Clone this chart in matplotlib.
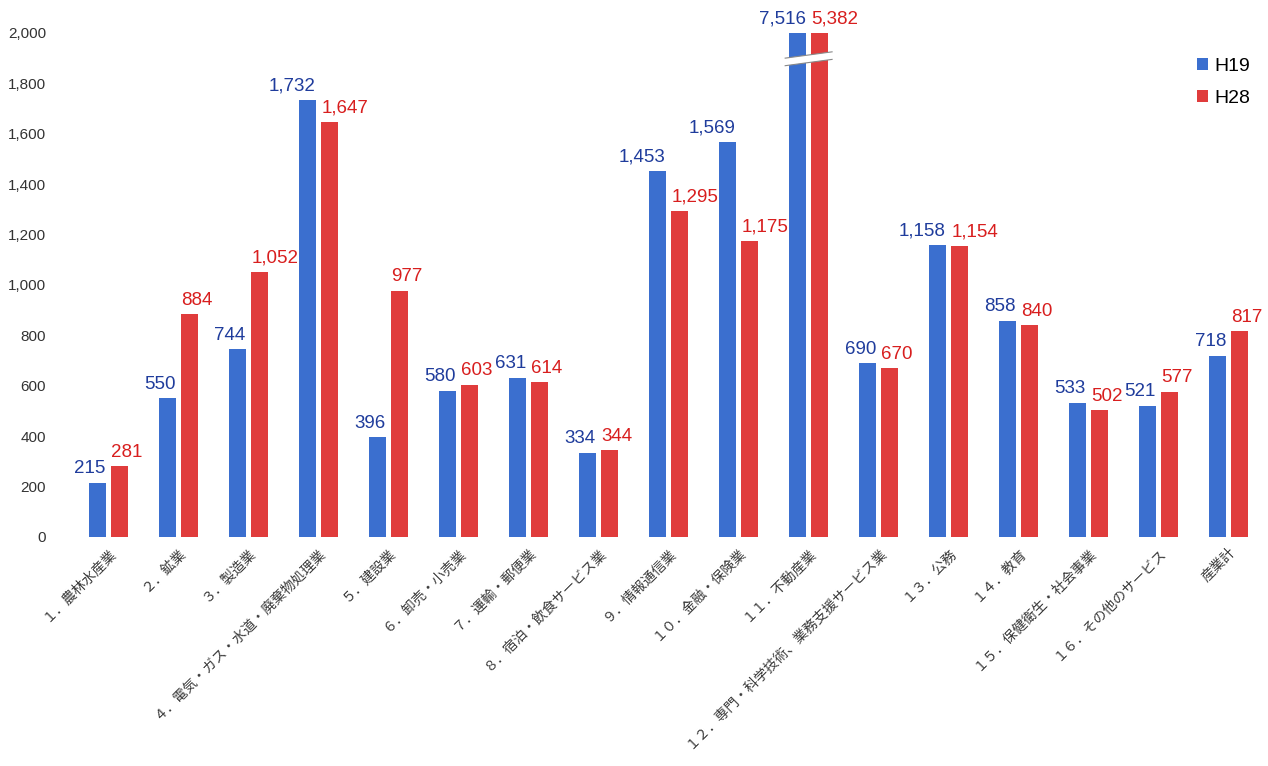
import matplotlib.pyplot as plt
import matplotlib.patches as mpatches
import numpy as np

plt.rcParams['font.family'] = ['Liberation Sans', 'Noto Sans CJK JP', 'DejaVu Sans']

industries = [
    '１．農林水産業', '２．鉱業', '３．製造業', '４．電気・ガス・水道・廃棄物処理業',
    '５．建設業', '６．卸売・小売業', '７．運輸・郵便業', '８．宿泊・飲食サービス業',
    '９．情報通信業', '１０．金融・保険業', '１１．不動産業',
    '１２．専門・科学技術、業務支援サービス業', '１３．公務', '１４．教育',
    '１５．保健衛生・社会事業', '１６．その他のサービス', '産業計',
]
h19 = [215, 550, 744, 1732, 396, 580, 631, 334, 1453, 1569, 7516, 690, 1158, 858, 533, 521, 718]
h28 = [281, 884, 1052, 1647, 977, 603, 614, 344, 1295, 1175, 5382, 670, 1154, 840, 502, 577, 817]

blue, red = '#3b6fcf', '#e03c3c'
blue_txt, red_txt = '#1f3c9c', '#d81e1e'
ymax = 2000

fig = plt.figure(figsize=(12.68, 7.66), dpi=100)
ax = fig.add_axes([0.043, 0.299, 0.952, 0.658])

x = np.arange(len(industries))
w = 0.24
off = 0.155
ax.bar(x - off, h19, w, color=blue, label='H19')
ax.bar(x + off, h28, w, color=red, label='H28')

# value labels: H19 ends just past the middle of its pair, H28 starts just before it
for xi, v in zip(x, h19):
    ax.annotate(f'{v:,}', (xi, min(v, ymax)), xytext=(-2, 4),
                textcoords='offset points', ha='right', va='bottom',
                fontsize=13.5, color=blue_txt, annotation_clip=False)
for xi, v in zip(x, h28):
    ax.annotate(f'{v:,}', (xi, min(v, ymax)), xytext=(2, 4),
                textcoords='offset points', ha='left', va='bottom',
                fontsize=13.5, color=red_txt, annotation_clip=False)

# break mark on the out-of-range pair
i = h19.index(max(h19))
x0, x1 = i - off - w / 2 - 0.06, i + off + w / 2 + 0.06
band = mpatches.Polygon([[x0, 1870], [x1, 1895], [x1, 1925], [x0, 1900]],
                        closed=True, facecolor='white', edgecolor='none', zorder=3)
ax.add_patch(band)
ax.plot([x0, x1], [1870, 1895], color='#888888', lw=0.8, zorder=4)
ax.plot([x0, x1], [1900, 1925], color='#888888', lw=0.8, zorder=4)

ax.set_xlim(-0.77, len(industries) - 0.53)
ax.set_ylim(0, ymax)
ax.set_yticks(np.arange(0, 2001, 200))
ax.set_yticklabels([f'{t:,}' for t in range(0, 2001, 200)])
ax.set_xticks(x)
ax.set_xticklabels(industries, rotation=45, ha='right', rotation_mode='anchor',
                   fontsize=10, color='#3a3a3a', family=['Noto Sans CJK JP', 'DejaVu Sans'])
ax.tick_params(axis='both', length=0)
ax.tick_params(axis='y', labelsize=11, labelcolor='#333333', pad=6)
ax.tick_params(axis='x', pad=6)
for s in ax.spines.values():
    s.set_visible(False)

ax.legend(loc='upper right', bbox_to_anchor=(1.005, 0.985), frameon=False,
          fontsize=14, handlelength=0.55, handleheight=0.55, handletextpad=0.35,
          labelspacing=0.75)

fig.savefig('out.png', dpi=100, facecolor='white')
